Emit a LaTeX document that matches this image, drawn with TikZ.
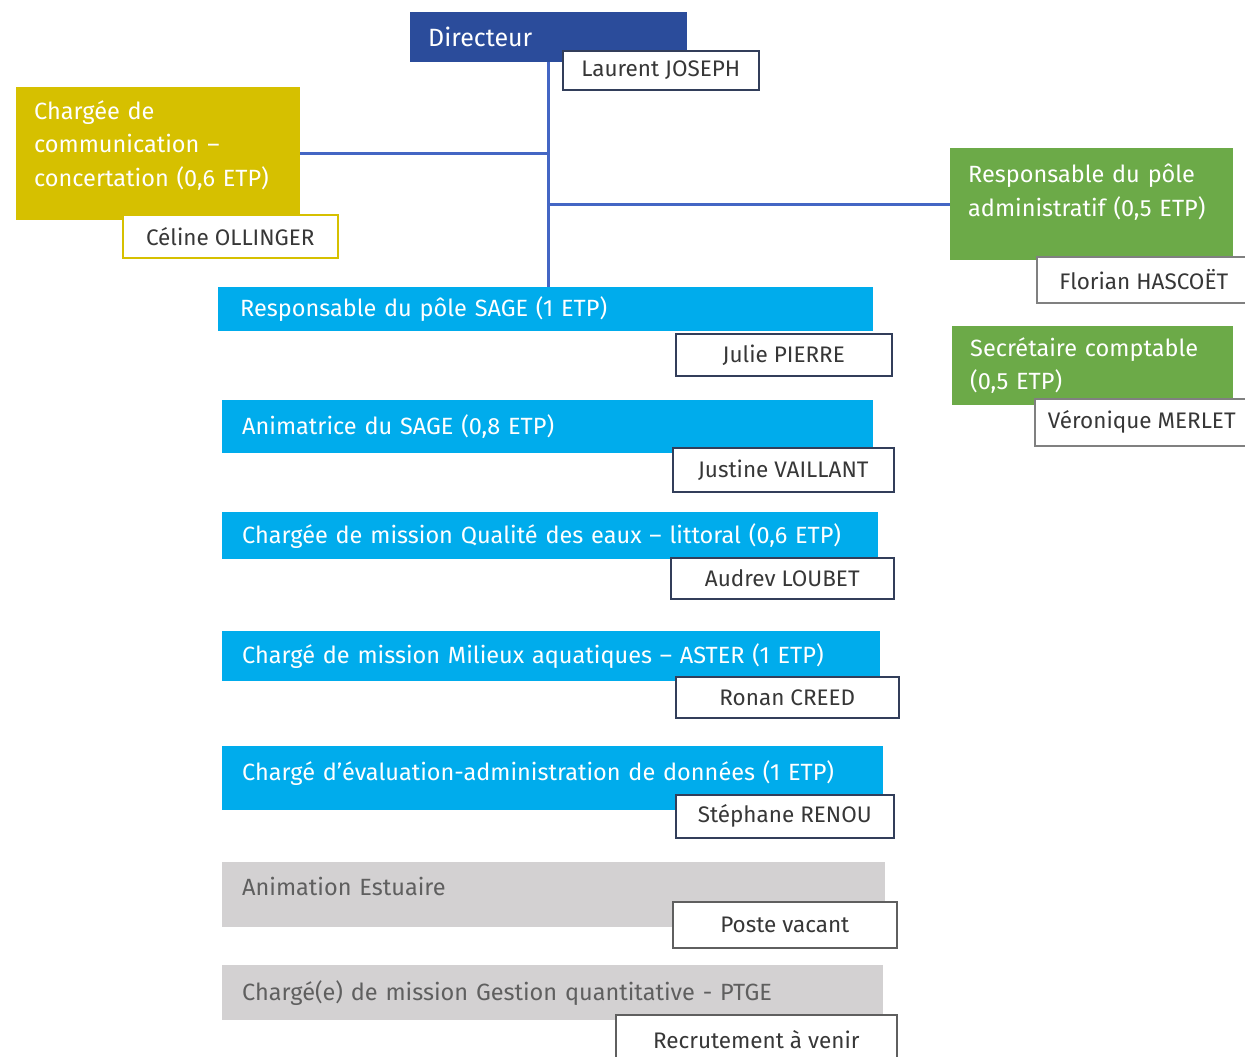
\documentclass[tikz,border=0pt]{standalone}
\usepackage{fontspec}
\setmainfont{Fira Sans}
\usepackage{xcolor}
\usetikzlibrary{positioning,calc}

\definecolor{dirblue}{RGB}{43,76,155}
\definecolor{linkblue}{RGB}{68,102,196}
\definecolor{comyellow}{RGB}{214,192,0}
\definecolor{admgreen}{RGB}{108,170,72}
\definecolor{sageblue}{RGB}{0,172,236}
\definecolor{vacgray}{RGB}{211,209,210}
\definecolor{vactext}{RGB}{95,95,95}
\definecolor{nametext}{RGB}{55,55,55}
\definecolor{nameframe}{RGB}{50,62,90}

\tikzset{
  post/.style={anchor=north west, inner xsep=20pt, inner ysep=0pt, align=left,
    text=white, font=\fontsize{23.5}{33.5}\selectfont},
  vacant/.style={post, fill=vacgray, text=vactext},
  namebox/.style={anchor=north west, draw=nameframe, line width=1.6pt, fill=white,
    text=nametext, inner sep=0pt, font=\fontsize{22.5}{26}\selectfont},
  link/.style={linkblue, line width=3pt}
}

\begin{document}
\begin{tikzpicture}[x=1pt,y=-1pt]
    \useasboundingbox[fill=white] (0,0) rectangle (1245,1057);
    % Direction
    \node[post, fill=dirblue, inner xsep=18pt, text width=241pt, minimum height=50pt,
        font=\fontsize{25}{30}\selectfont] (dir) at (410,12) {Directeur};
    % Communication
    \node[post, fill=comyellow, inner xsep=18pt, text width=248pt, minimum height=133pt,
        text depth=88pt] (com) at (16,87)
        {Chargée de\\communication --\\concertation (0,6 ETP)};
    % Pole administratif
    \node[post, fill=admgreen, inner xsep=18pt, text width=247pt, minimum height=112pt,
        text depth=62pt] (adm) at (950,148)
        {Responsable du pôle\\administratif (0,5 ETP)};
    \node[post, fill=admgreen, inner xsep=18pt, text width=245pt, minimum height=79pt] (sec) at (952,326)
        {Secrétaire comptable\\(0,5 ETP)};
    % Pole SAGE
    \node[post, fill=sageblue, inner xsep=22pt, text width=611pt, minimum height=44pt] (sage) at (218,287)
        {Responsable du pôle SAGE (1 ETP)};
    \node[post, fill=sageblue, text width=611pt, minimum height=53pt] (anim) at (222,400)
        {Animatrice du SAGE (0,8 ETP)};
    \node[post, fill=sageblue, text width=616pt, minimum height=47pt] (qual) at (222,512)
        {Chargée de mission Qualité des eaux -- littoral (0,6 ETP)};
    \node[post, fill=sageblue, text width=618pt, minimum height=50pt] (aster) at (222,631)
        {Chargé de mission Milieux aquatiques -- ASTER (1 ETP)};
    \node[post, fill=sageblue, text width=621pt, minimum height=64pt, text depth=16pt] (data) at (222,746)
        {Chargé d'évaluation-administration de données (1 ETP)};
    \node[vacant, text width=623pt, minimum height=65pt, text depth=16pt] (estu) at (222,862)
        {Animation Estuaire};
    \node[vacant, text width=621pt, minimum height=55pt] (ptge) at (222,965)
        {Chargé(e) de mission Gestion quantitative - PTGE};
    % Links
    \draw[link] (dir.south) -- (dir.south |- sage.north);
    \draw[link] (com.east) -- (com.east -| dir.south);
    \draw[link] (adm.west) -- (adm.west -| dir.south);
    % Names
    \node[namebox, minimum width=196pt, minimum height=39pt] (ndir) at (562,50) {Laurent JOSEPH};
    \node[namebox, draw=comyellow, minimum width=215pt, minimum height=43pt] (ncom) at (122,214) {Céline OLLINGER};
    \node[namebox, draw=gray, minimum width=214pt, minimum height=46pt] (nadm) at (1036,256) {Florian HASCOËT};
    \node[namebox, draw=gray, minimum width=214pt, minimum height=47pt] (nsec) at (1034,398) {Véronique MERLET};
    \node[namebox, minimum width=216pt, minimum height=42pt] (nsage) at (675,333) {Julie PIERRE};
    \node[namebox, minimum width=221pt, minimum height=44pt] (nanim) at (672,447) {Justine VAILLANT};
    \node[namebox, minimum width=223pt, minimum height=41pt] (nqual) at (670,557) {Audrev LOUBET};
    \node[namebox, minimum width=223pt, minimum height=41pt] (naster) at (675,676) {Ronan CREED};
    \node[namebox, minimum width=218pt, minimum height=43pt] (ndata) at (675,794) {Stéphane RENOU};
    \node[namebox, draw=vactext, minimum width=224pt, minimum height=46pt] (nestu) at (672,901) {Poste vacant};
    \node[namebox, draw=vactext, minimum width=281pt, minimum height=50pt] (nptge) at (615,1014) {Recrutement à venir};
\end{tikzpicture}
\end{document}
